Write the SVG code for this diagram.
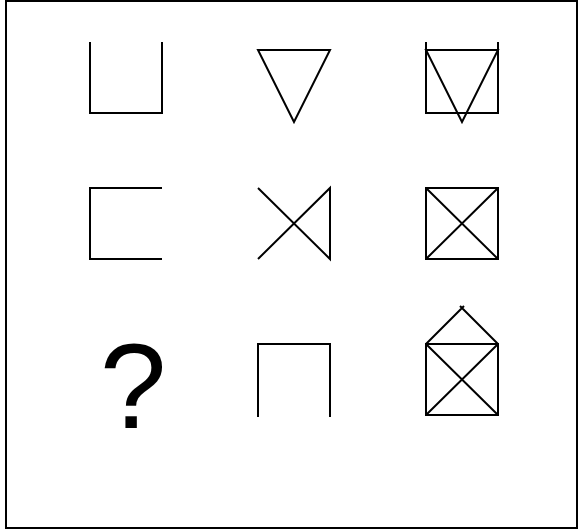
<svg xmlns="http://www.w3.org/2000/svg" width="578" height="530" viewBox="0 0 578 530">
<style>
.s{fill:none;stroke:#000;stroke-width:2;stroke-linejoin:miter;stroke-linecap:butt}
.q{font-family:"Liberation Sans",Arial,sans-serif;font-size:120px;fill:#000}
</style>
<rect x="0" y="0" width="578" height="530" fill="#fff"/>
<rect class="s" x="6" y="1" width="571" height="527"/>
<g id="cell1"><polyline class="s" points="90,42 90,113 162,113 162,42"/></g>
<g id="cell2"><polygon class="s" points="258,50 330,50 294,122"/></g>
<g id="cell3"><polyline class="s" points="426,42 426,113 498,113 498,42"/><polygon class="s" points="426,50 498,50 462,122"/></g>
<g id="cell4"><polyline class="s" points="162,188 90,188 90,259 162,259"/></g>
<g id="cell5"><path class="s" d="M258,188 L330,259 L330,188 L258,259"/></g>
<g id="cell6"><rect class="s" x="426" y="188" width="72" height="71"/><path class="s" d="M426,188 L498,259 M498,188 L426,259"/></g>
<g id="cell7"><text class="q" x="133" y="428" text-anchor="middle">?</text></g>
<g id="cell8"><polyline class="s" points="258,417 258,344 330,344 330,417"/></g>
<g id="cell9"><rect class="s" x="426" y="344" width="72" height="71"/><path class="s" d="M426,344 L498,415 M498,344 L426,415 M426,344 L464,306 M498,344 L460,306"/></g>
</svg>
